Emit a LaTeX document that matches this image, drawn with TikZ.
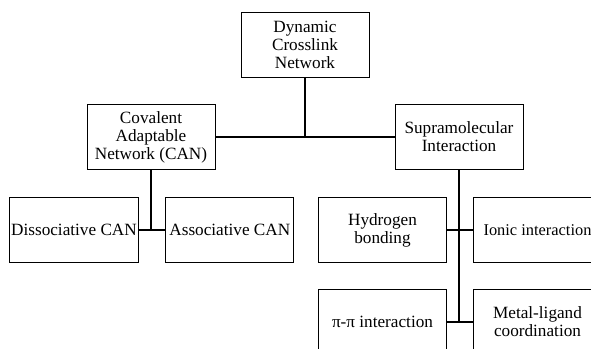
\documentclass[tikz,border=0pt]{standalone}
\usepackage{fontspec}
\setmainfont{Liberation Serif}
\usetikzlibrary{positioning}

\begin{document}
\begin{tikzpicture}[
      mybox/.style={
         rectangle,
         draw=black,
         line width=1pt,
         align=center,
         inner sep=2pt,
         minimum width=128pt,
         minimum height=65pt,
         font=\fontsize{17.2}{18}\selectfont},
      myline/.style={line width=1.2pt},
      node distance=26pt and 26pt
      ]
      \useasboundingbox (0,0) rectangle (591pt,-348pt);
      \clip (0,0) rectangle (591pt,-348pt);

      \node[mybox] (dcn) at (305pt,-44.5pt) {Dynamic\\Crosslink\\Network};
      \node[mybox] (can) at (151pt,-137pt) {Covalent\\Adaptable\\Network (CAN)};
      \node[mybox] (supra) at (459pt,-137pt) {Supramolecular\\Interaction};

      \node[mybox] (dis) at (74pt,-230pt) {Dissociative CAN};
      \node[mybox,right=of dis] (ass) {Associative CAN};

      \node[mybox] (hyd) at (382.5pt,-230pt) {Hydrogen\\bonding};
      \node[mybox,right=of hyd,font=\fontsize{16.4}{18}\selectfont] (ion) {Ionic interaction};
      \node[mybox,below=of hyd] (pipi) {π-π interaction};
      \node[mybox,right=of pipi] (metal) {Metal-ligand\\coordination};

      % junctions
      \coordinate (jtop) at (dcn.south |- can.east);
      \coordinate (jcan) at (can.south |- dis.east);
      \coordinate (jhyd) at (supra.south |- hyd.east);
      \coordinate (jpi) at (supra.south |- pipi.east);

      \foreach \i/\j in {% start/end
        dcn.south/jtop,
        can.east/supra.west,
        can.south/jcan,
        dis.east/ass.west,
        supra.south/jpi,
        hyd.east/ion.west,
        pipi.east/metal.west}
        \draw [myline] (\i) -- (\j);

    \end{tikzpicture}
\end{document}
